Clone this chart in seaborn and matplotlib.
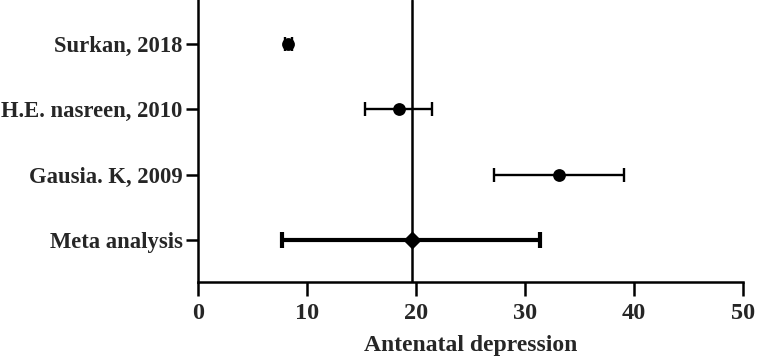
import matplotlib
matplotlib.use("Agg")
import matplotlib.pyplot as plt
import seaborn as sns
import pandas as pd

studies = ["Surkan, 2018", "H.E. nasreen, 2010", "Gausia. K, 2009", "Meta analysis"]
estimate = [8.3, 18.4, 33.1, 19.6]
lower = [8.0, 15.3, 27.2, 7.7]
upper = [8.6, 21.5, 39.1, 31.4]
kind = ["study", "study", "study", "meta"]
pooled = 19.6
x_ticks = [0, 10, 20, 30, 40, 50]

df = pd.DataFrame({"study": studies, "est": estimate, "lo": lower, "hi": upper, "kind": kind})
df["pos"] = range(len(df))

sns.set_theme(style="white")
plt.rcParams["font.family"] = ["Liberation Serif", "DejaVu Serif"]
plt.rcParams["font.weight"] = "bold"

fig = plt.figure(figsize=(7.57, 3.58), dpi=100)
ax = fig.add_axes([0.2616, 0.2123, 0.7199, 0.7877])

ax.axvline(pooled, color="black", lw=1.8, zorder=1)

for _, r in df.iterrows():
    is_meta = r["kind"] == "meta"
    ax.errorbar(r["est"], r["pos"],
                xerr=[[r["est"] - r["lo"]], [r["hi"] - r["est"]]],
                fmt="none", ecolor="black",
                elinewidth=3.0 if is_meta else 1.7,
                capsize=6 if is_meta else 5,
                capthick=3.0 if is_meta else 1.7, zorder=2)

sns.scatterplot(data=df[df["kind"] == "study"], x="est", y="pos", ax=ax,
                color="black", marker="o", s=85, edgecolor="black", linewidth=0, zorder=3, legend=False)
sns.scatterplot(data=df[df["kind"] == "meta"], x="est", y="pos", ax=ax,
                color="black", marker="D", s=85, edgecolor="black", linewidth=0, zorder=3, legend=False)

ax.set_xlim(0, 50)
ax.set_ylim(3.65, -0.68)
ax.set_xticks(x_ticks)
ax.set_xticklabels([str(t) for t in x_ticks], fontsize=17.5, fontweight="bold")
ax.set_yticks(df["pos"])
ax.set_yticklabels(studies, fontsize=16.3, fontweight="bold")
ax.set_xlabel("Antenatal depression", fontsize=17, fontweight="bold", labelpad=8)
ax.set_ylabel("")

for side in ["top", "right"]:
    ax.spines[side].set_visible(False)
for side in ["left", "bottom"]:
    ax.spines[side].set_color("black")
    ax.spines[side].set_linewidth(1.8)

ax.tick_params(axis="x", direction="out", length=10, width=1.8, color="black", pad=5, bottom=True)
ax.tick_params(axis="y", direction="out", length=9, width=1.8, color="black", pad=2, left=True)

fig.savefig("out.png", dpi=100)
